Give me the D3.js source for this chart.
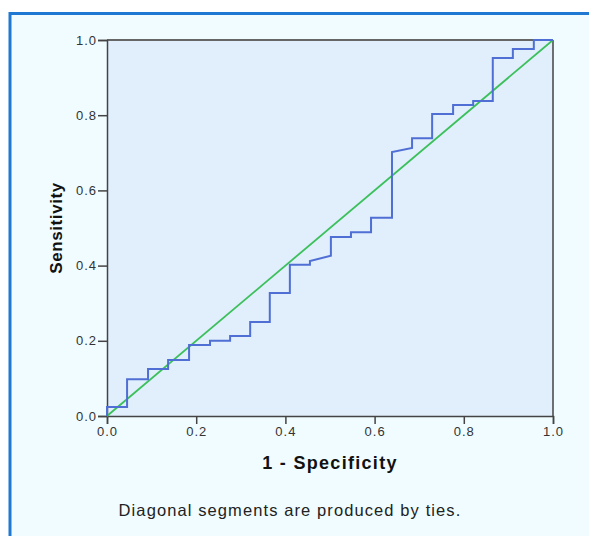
<!DOCTYPE html>
<html>
<head>
<meta charset="utf-8">
<script src="https://cdn.jsdelivr.net/npm/d3@7"></script>
<style>
  body { margin: 0; background: #fff; }
  svg { display: block; }
</style>
</head>
<body>
<div id="chart"></div>
<script>
// ROC curve points (1 - specificity, sensitivity)
const fpr = [0, 0, 0.045, 0.045, 0.092, 0.092, 0.137, 0.137, 0.184, 0.184, 0.231, 0.231,
  0.276, 0.276, 0.321, 0.321, 0.365, 0.365, 0.41, 0.41, 0.455, 0.455, 0.502, 0.502,
  0.547, 0.547, 0.592, 0.592, 0.639, 0.639, 0.684, 0.684, 0.729, 0.729, 0.776, 0.776,
  0.821, 0.821, 0.865, 0.865, 0.91, 0.91, 0.957, 0.957, 1];
const tpr = [0, 0.024, 0.024, 0.098, 0.098, 0.125, 0.125, 0.149, 0.149, 0.189, 0.189, 0.2,
  0.2, 0.213, 0.213, 0.25, 0.25, 0.327, 0.327, 0.402, 0.402, 0.412, 0.426, 0.476,
  0.476, 0.489, 0.489, 0.527, 0.527, 0.702, 0.713, 0.739, 0.739, 0.803, 0.803, 0.827,
  0.827, 0.838, 0.838, 0.952, 0.952, 0.976, 0.976, 1, 1];
const refLine = [[0, 0], [1, 1]];
const tickValues = [0, 0.2, 0.4, 0.6, 0.8, 1.0];
const xTitle = "1 - Specificity";
const yTitle = "Sensitivity";
const footnote = "Diagonal segments are produced by ties.";

const W = 589, H = 536;
const margin = {top: 40, right: 36, bottom: 120, left: 107};
const width = W - margin.left - margin.right;
const height = H - margin.top - margin.bottom;
const font = "Liberation Sans, Arial, sans-serif";

const svg = d3.select("#chart").append("svg")
    .attr("width", W)
    .attr("height", H);

// outer panel with blue frame on left and top
svg.append("rect").attr("x", 0).attr("y", 0).attr("width", W).attr("height", H).attr("fill", "#fff");
svg.append("rect").attr("x", 10).attr("y", 14).attr("width", W - 10).attr("height", H - 14)
    .attr("fill", "#f0fcff");
svg.append("line").attr("x1", 9).attr("y1", 13.5).attr("x2", W).attr("y2", 13.5)
    .attr("stroke", "#1f78d1").attr("stroke-width", 3);
svg.append("line").attr("x1", 10).attr("y1", 12).attr("x2", 10).attr("y2", H)
    .attr("stroke", "#1f78d1").attr("stroke-width", 3);

const g = svg.append("g")
    .attr("transform", "translate(" + margin.left + "," + margin.top + ")");

const x = d3.scaleLinear().domain([0, 1]).range([0, width]);
const y = d3.scaleLinear().domain([0, 1]).range([height, 0]);

g.append("rect").attr("width", width).attr("height", height).attr("fill", "#e1eefc");

// top and right frame
g.append("line").attr("x1", 0).attr("x2", width).attr("y1", 0).attr("y2", 0)
    .attr("stroke", "#666").attr("stroke-width", 2);
g.append("line").attr("x1", width).attr("x2", width).attr("y1", 0).attr("y2", height)
    .attr("stroke", "#444").attr("stroke-width", 1.5);

const fmt = d3.format(".1f");
const xAxis = g.append("g").attr("transform", "translate(0," + height + ")")
    .call(d3.axisBottom(x).tickValues(tickValues).tickFormat(fmt).tickSize(8).tickPadding(3));
const yAxis = g.append("g")
    .call(d3.axisLeft(y).tickValues(tickValues).tickFormat(fmt).tickSize(9).tickPadding(1));
[xAxis, yAxis].forEach(a => {
    a.attr("font-family", font).attr("font-size", 13);
    a.select(".domain").attr("stroke", "#444").attr("stroke-width", 1.5);
    a.selectAll(".tick line").attr("stroke", "#444").attr("stroke-width", 1.5);
    a.selectAll(".tick text").attr("fill", "#333").attr("letter-spacing", 1);
});

// reference diagonal
const line = d3.line().x(d => x(d[0])).y(d => y(d[1]));
g.append("path").datum(refLine)
    .attr("d", line)
    .attr("fill", "none").attr("stroke", "#3cc05c").attr("stroke-width", 1.8);

// ROC step curve
const roc = fpr.map((v, i) => [v, tpr[i]]);
g.append("path").datum(roc)
    .attr("d", line)
    .attr("fill", "none").attr("stroke", "#4f6fd4").attr("stroke-width", 2)
    .attr("stroke-linejoin", "miter");

// titles
g.append("text")
    .attr("x", width / 2).attr("y", height + 53)
    .attr("text-anchor", "middle")
    .attr("font-family", font)
    .attr("font-size", 18).attr("font-weight", "bold").attr("fill", "#111")
    .attr("letter-spacing", 1.3)
    .text(xTitle);
g.append("text")
    .attr("transform", "translate(-45," + (height / 2) + ") rotate(-90)")
    .attr("text-anchor", "middle")
    .attr("font-family", font)
    .attr("font-size", 17).attr("font-weight", "bold").attr("fill", "#111")
    .attr("letter-spacing", 0.6)
    .text(yTitle);

svg.append("text")
    .attr("x", 290).attr("y", 516)
    .attr("text-anchor", "middle")
    .attr("font-family", font)
    .attr("font-size", 16.5).attr("font-weight", "normal").attr("fill", "#222").attr("letter-spacing", 1.1)
    .text(footnote);
</script>
</body>
</html>
